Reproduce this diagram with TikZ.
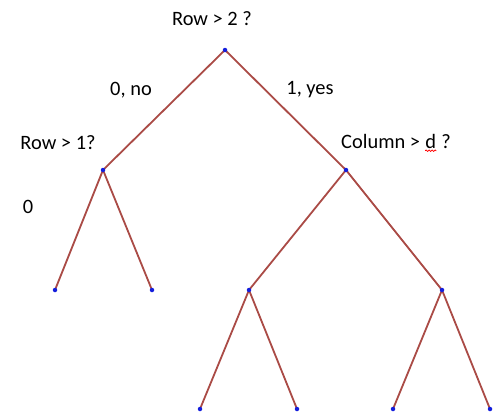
\documentclass[tikz,border=0pt]{standalone}
\usepackage{fontspec}
\setmainfont{Carlito}
\usetikzlibrary{decorations.pathmorphing}
\definecolor{edgec}{RGB}{170,75,70}
\definecolor{dotc}{RGB}{20,30,220}
\begin{document}
\begin{tikzpicture}[x=1bp,y=-1bp,
  pt/.style={circle,fill=dotc,inner sep=0pt,minimum size=4.5bp},
  edge/.style={draw=edgec,line width=1.8bp},
  lbl/.style={font=\fontsize{20.5}{24}\selectfont,inner sep=0pt}]
\useasboundingbox (0,0) rectangle (498,414);
\coordinate (r) at (225,50);
\coordinate (l) at (103,170);
\coordinate (rr) at (346,170);
\coordinate (ll1) at (55,290);
\coordinate (ll2) at (152,290);
\coordinate (rl) at (249,290);
\coordinate (rrr) at (442,290);
\coordinate (b1) at (200,409);
\coordinate (b2) at (297,409);
\coordinate (b3) at (393,409);
\coordinate (b4) at (490,409);
\foreach \a/\b in {r/l,r/rr,l/ll1,l/ll2,rr/rl,rr/rrr,rl/b1,rl/b2,rrr/b3,rrr/b4}
  \draw[edge] (\a) -- (\b);
\foreach \p in {r,l,rr,ll1,ll2,rl,rrr,b1,b2,b3,b4}
  \node[pt] (n\p) at (\p) {};
\node[lbl] (t1) at (212,19) {Row > 2 ?};
\node[lbl] (t2) at (131,90) {0, no};
\node[lbl] (t3) at (310,90) {1, yes};
\node[lbl] (t4) at (58,143) {Row > 1?};
\node[lbl] (t5) at (28,207) {0};
\node[lbl] (t6) at (396,143) {Column > \tikz[baseline=(dd.base)]{\node[inner sep=0pt] (dd) {d}; \draw[red,line width=0.8bp,decorate,decoration={snake,amplitude=0.7bp,segment length=3bp}] ([yshift=-2bp]dd.south west) -- ([yshift=-2bp]dd.south east);} ?};
\end{tikzpicture}
\end{document}
